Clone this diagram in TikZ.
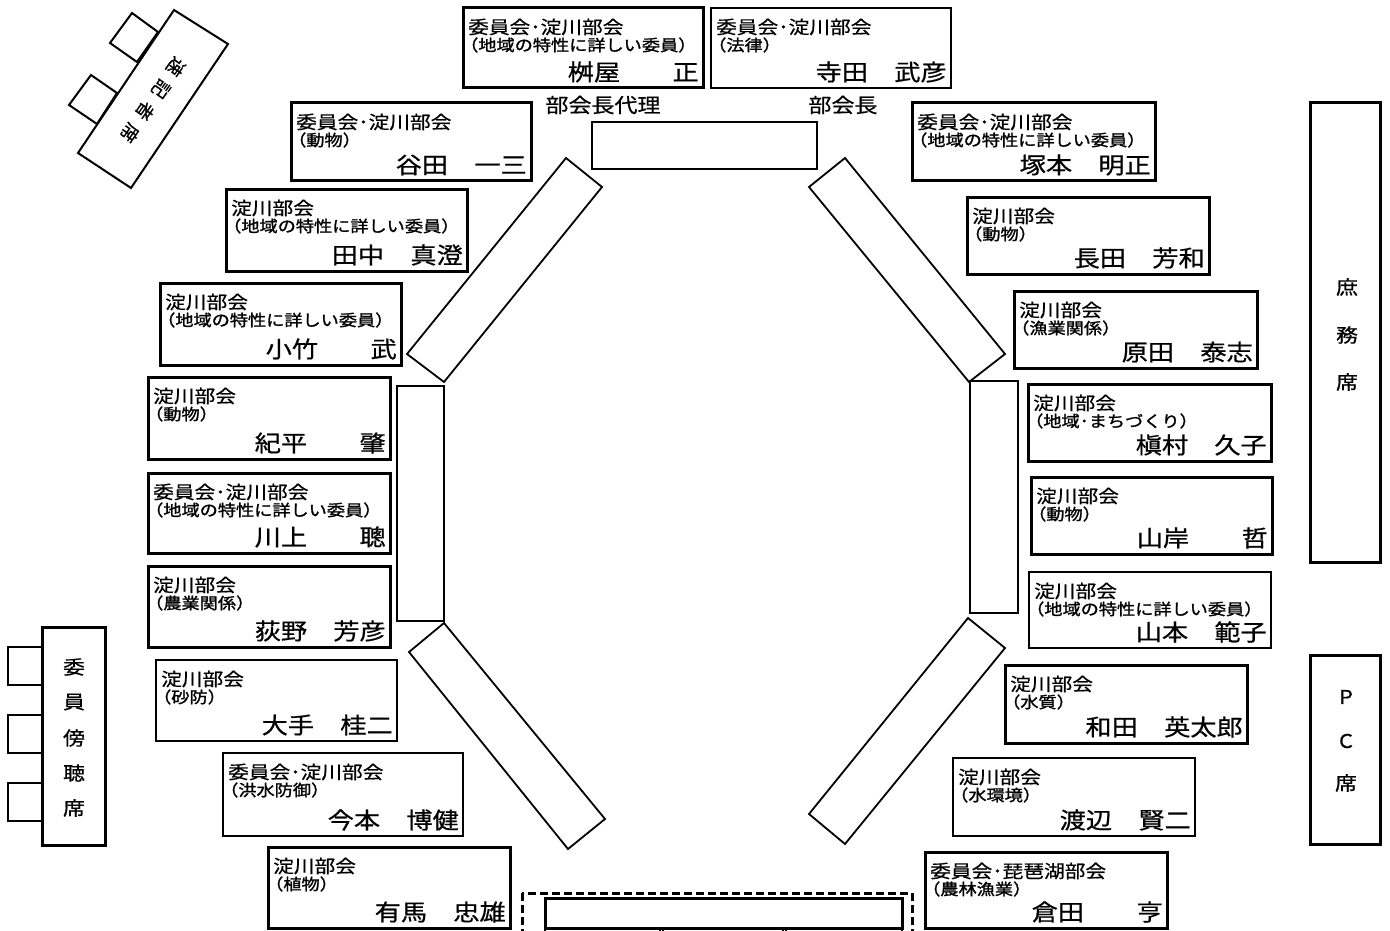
\documentclass[tikz,border=0pt]{standalone}
\usepackage{graphicx}
\usepackage{fontspec}
\setmainfont{Noto Sans CJK JP}
\newfontfamily\jpsemi[FakeBold=1.3]{Noto Sans CJK JP}
\newfontfamily\jplight[FakeBold=0.6]{Noto Sans CJK JP}
\newcommand\sx[1]{\scalebox{1.15}[1]{#1}}
\tikzset{
  box/.style={draw=black, line join=miter},
  tbl/.style={draw=black, line width=1.8pt, line join=miter},
  ltop/.style={inner sep=0pt, font=\jplight\fontsize{18}{20}\selectfont},
  lmid/.style={inner sep=0pt, font=\jpsemi\fontsize{15.8}{18}\selectfont},
  lname/.style={inner sep=0pt, font=\jplight\fontsize{22.8}{25}\selectfont},
  lbig/.style={inner sep=0pt, font=\jplight\fontsize{20}{22}\selectfont},
}
\newcommand\member[9]{%
  \draw[box, line width=#9] (#2,#3) rectangle (#4,#5);
  \node[ltop, anchor=west] (#1a) at ({#2+5},{#3+19}) {\sx{#6}};
  \node[lmid, anchor=west] (#1b) at ({#2-3},{#3+37}) {\sx{#7}};
  \node[lname, anchor=east] (#1c) at ({#4-4},{#5-16}) {\sx{#8}};
}
\begin{document}
\begin{tikzpicture}[x=1pt,y=-1pt]
\useasboundingbox (0,0) rectangle (1390,931);
\clip (0,0) rectangle (1390,931);

% ---------- tables ----------
\draw[tbl, line width=2.5pt] (592,122) rectangle (817,169);
\draw[tbl] (566,158) -- (602,187) -- (444,382) -- (407,354) -- cycle;
\draw[tbl, line width=2.6pt] (397,386) rectangle (444,621);
\draw[tbl] (444,623) -- (605,819) -- (568,849) -- (409,652) -- cycle;
\draw[tbl] (845,158) -- (1005,354) -- (969,382) -- (809,187) -- cycle;
\draw[tbl, line width=2.8pt] (970,381) rectangle (1018,613);
\draw[tbl] (968,618) -- (1005,648) -- (845,844) -- (809,814) -- cycle;

% bottom table
\draw[line width=3pt, dash pattern=on 8pt off 4pt] (522,893) rectangle (912,960);
\draw[box, line width=3pt] (545,898) rectangle (902,928);
\draw[box, line width=2pt] (545,928) rectangle (660,965);
\draw[box, line width=2pt] (663,928) rectangle (783,965);
\draw[box, line width=2pt] (786,928) rectangle (902,965);

% ---------- chair labels ----------
\node[lbig] (dairi) at (603,105) {\sx{部会長代理}};
\node[lbig] (bukaicho) at (843,105) {\sx{部会長}};

% ---------- members ----------
\member{masuya}{463}{8}{703}{88}{委員会･淀川部会}{（地域の特性に詳しい委員）}{桝屋　　正}{3pt}
\member{terada}{711}{8}{951}{88}{委員会･淀川部会}{（法律）}{寺田　武彦}{2pt}
\member{tanida}{291}{103}{531}{181}{委員会･淀川部会}{（動物）}{谷田　一三}{3pt}
\member{tanaka}{226}{189}{467}{271}{淀川部会}{（地域の特性に詳しい委員）}{田中　真澄}{3pt}
\member{kotake}{160}{283}{401}{365}{淀川部会}{（地域の特性に詳しい委員）}{小竹　　武}{3pt}
\member{kihira}{148}{377}{390}{459}{淀川部会}{（動物）}{紀平　　肇}{3pt}
\member{kawakami}{148}{473}{390}{553}{委員会･淀川部会}{（地域の特性に詳しい委員）}{川上　　聰}{3pt}
\member{ogino}{148}{566}{390}{647}{淀川部会}{（農業関係）}{荻野　芳彦}{3pt}
\member{ote}{156}{660}{397}{741}{淀川部会}{（砂防）}{大手　桂二}{2.4pt}
\member{imamoto}{223}{753}{463}{836}{委員会･淀川部会}{（洪水防御）}{今本　博健}{2.6pt}
\member{arima}{268}{847}{510}{928}{淀川部会}{（植物）}{有馬　忠雄}{3pt}
\member{tsukamoto}{912}{103}{1155}{181}{委員会･淀川部会}{（地域の特性に詳しい委員）}{塚本　明正}{3pt}
\member{nagata}{967}{197}{1209}{274}{淀川部会}{（動物）}{長田　芳和}{3pt}
\member{harada}{1014}{291}{1257}{368}{淀川部会}{（漁業関係）}{原田　泰志}{3pt}
\member{makimura}{1028}{384}{1271}{461}{淀川部会}{（地域･まちづくり）}{槇村　久子}{3pt}
\member{yamagishi}{1031}{477}{1272}{554}{淀川部会}{（動物）}{山岸　　哲}{3pt}
\member{yamamoto}{1029}{572}{1271}{648}{淀川部会}{（地域の特性に詳しい委員）}{山本　範子}{2.4pt}
\member{wada}{1005}{665}{1247}{743}{淀川部会}{（水質）}{和田　英太郎}{3pt}
\member{watanabe}{953}{758}{1195}{836}{淀川部会}{（水環境）}{渡辺　賢二}{2.6pt}
\member{kurata}{925}{852}{1167}{928}{委員会･琵琶湖部会}{（農林漁業）}{倉田　　亨}{3pt}

% ---------- press seats ----------
\draw[box, line width=2pt] (132,13) -- (158,32) -- (137,62) -- (110,43) -- cycle;
\draw[box, line width=2pt] (91,75) -- (117,93) -- (97,124) -- (69,105) -- cycle;
\draw[box, line width=2pt, fill=white] (174,10) -- (228,44) -- (131,188) -- (78,153) -- cycle;
\foreach \c/\xx/\yy [count=\i] in {速/176/67,記/161/89,者/145/111,席/130/133}
  \node[lbig, rotate=-125, font=\jplight\fontsize{18}{20}\selectfont] (sokki\i) at (\xx,\yy) {\c};

% ---------- observers ----------
\draw[box, line width=2pt] (8,647) rectangle (42,685);
\draw[box, line width=2pt] (8,715) rectangle (42,753);
\draw[box, line width=2pt] (8,783) rectangle (42,821);
\draw[box, line width=3pt] (42,627) rectangle (105,845);
\foreach \c/\yy [count=\i] in {委/667,員/702,傍/738,聴/773,席/808}
  \node[lbig, font=\jplight\fontsize{19}{21}\selectfont] (obs\i) at (74,\yy) {\sx{\c}};

% ---------- right seats ----------
\draw[box, line width=3pt] (1310,103) rectangle (1380,562);
\foreach \c/\yy [count=\i] in {庶/287,務/335,席/382}
  \node[lbig, font=\jplight\fontsize{19}{21}\selectfont] (shomu\i) at (1347,\yy) {\sx{\c}};
\draw[box, line width=3pt] (1310,655) rectangle (1380,844);
\foreach \c/\yy [count=\i] in {P/697,C/741,席/783}
  \node[lbig, font=\jplight\fontsize{19}{21}\selectfont] (pc\i) at (1346,\yy) {\sx{\c}};
\end{tikzpicture}
\end{document}
